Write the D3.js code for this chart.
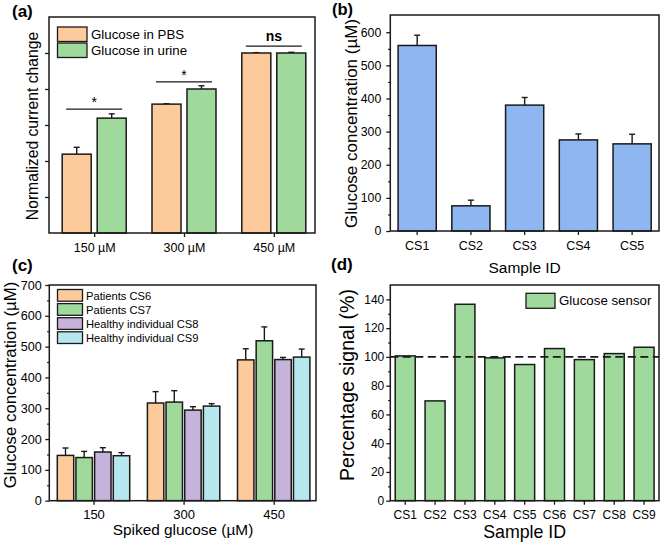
<!DOCTYPE html>
<html>
<head>
<meta charset="utf-8">
<script src="https://cdn.jsdelivr.net/npm/d3@7/dist/d3.min.js"></script>
<style>
  html, body { margin: 0; padding: 0; background: #fff; }
  svg { display: block; }
  text { font-family: "Liberation Sans", Arial, sans-serif; fill: #000; }
</style>
</head>
<body>
<svg id="chart" width="662" height="550"></svg>
<script>
// ---------- Panel (a) data ----------
const aGroups = ["150 µM", "300 µM", "450 µM"];
const aSeries = ["Glucose in PBS", "Glucose in urine"];
const aPBS = [2.19, 3.58, 5.0];
const aPBSErr = [0.19, 0.01, 0.01];
const aUrine = [3.19, 4.0, 5.0];
const aUrineErr = [0.12, 0.09, 0.02];
const aSigLabels = ["*", "*", "ns"];
const aSigLevel = [3.44, 4.2, 5.19];

// ---------- Panel (b) data ----------
const bSamples = ["CS1", "CS2", "CS3", "CS4", "CS5"];
const bValues = [560, 76, 380, 275, 263];
const bErr = [31, 17, 23, 18, 29];
const bTicks = [0, 100, 200, 300, 400, 500, 600];

// ---------- Panel (c) data ----------
const cGroups = ["150", "300", "450"];
const cSeries = ["Patients CS6", "Patients CS7", "Healthy individual CS8", "Healthy individual CS9"];
const cCS6 = [147, 317, 457];
const cCS6Err = [24, 37, 36];
const cCS7 = [140, 320, 519];
const cCS7Err = [20, 37, 45];
const cCS8 = [158, 294, 458];
const cCS8Err = [14, 11, 7];
const cCS9 = [146, 307, 466];
const cCS9Err = [10, 8, 26];
const cTicks = [0, 100, 200, 300, 400, 500, 600, 700];

// ---------- Panel (d) data ----------
const dSamples = ["CS1", "CS2", "CS3", "CS4", "CS5", "CS6", "CS7", "CS8", "CS9"];
const dValues = [100.7, 69.4, 136.6, 99.3, 94.7, 105.8, 98.1, 102.3, 106.7];
const dReference = 100;
const dTicks = [0, 20, 40, 60, 80, 100, 120, 140];

// ---------- styles ----------
const colors = {
  orange: "#FDCA9C",
  green: "#9FD99C",
  purple: "#C5B3DB",
  cyan: "#B6E6EE",
  blue: "#8EB6F0"
};
const stroke = "#1a1a1a";

const svg = d3.select("#chart");

function frame(g, x0, x1, y0, y1) {
  g.append("rect").attr("x", x0).attr("y", y1).attr("width", x1 - x0).attr("height", y0 - y1)
    .attr("fill", "none").attr("stroke", stroke).attr("stroke-width", 1.5);
}

function yAxis(g, y, x0, ticks, minorTicks, fontSize, pad, showLabels) {
  const ax = d3.axisLeft(y).tickValues(ticks).tickSize(4).tickSizeOuter(0).tickPadding(pad);
  if (!showLabels) ax.tickFormat("");
  const a = g.append("g").attr("transform", `translate(${x0},0)`).call(ax);
  a.select(".domain").remove();
  a.selectAll("line").attr("stroke", stroke).attr("stroke-width", 1.3);
  a.selectAll("text").attr("font-size", fontSize).attr("fill", "#000")
    .style("font-family", '"Liberation Sans", Arial, sans-serif');
  if (minorTicks) {
    const m = g.append("g").attr("transform", `translate(${x0},0)`)
      .call(d3.axisLeft(y).tickValues(minorTicks).tickSize(2.2).tickFormat(""));
    m.select(".domain").remove();
    m.selectAll("line").attr("stroke", stroke).attr("stroke-width", 1.2);
  }
}

function xAxis(g, scale, y0, fontSize, labelOffset) {
  const ax = d3.axisBottom(scale).tickSize(4).tickSizeOuter(0);
  const a = g.append("g").attr("transform", `translate(0,${y0})`).call(ax);
  a.select(".domain").remove();
  a.selectAll("line").attr("stroke", stroke).attr("stroke-width", 1.3);
  a.selectAll("text").attr("font-size", fontSize).attr("fill", "#000")
    .attr("y", labelOffset).attr("dy", 0)
    .style("font-family", '"Liberation Sans", Arial, sans-serif');
}

function yTitle(g, text, cx, cy, size) {
  g.append("text").attr("transform", `translate(${cx},${cy}) rotate(-90)`)
    .attr("text-anchor", "middle").attr("dy", "0.35em").attr("font-size", size).text(text);
}

function panelLabel(text, x, y, size) {
  svg.append("text").attr("x", x).attr("y", y).attr("font-size", size || 17)
    .attr("font-weight", "bold").text(text);
}

function errBar(g, cx, yTop, yErr, half) {
  g.append("line").attr("x1", cx).attr("x2", cx).attr("y1", yTop).attr("y2", yErr)
    .attr("stroke", stroke).attr("stroke-width", 1.4);
  g.append("line").attr("x1", cx - half).attr("x2", cx + half).attr("y1", yErr).attr("y2", yErr)
    .attr("stroke", stroke).attr("stroke-width", 1.4);
}

// ================= Panel (a) =================
{
  const g = svg.append("g");
  const L = 49, R = 315, T = 17, B = 233;
  const y = d3.scaleLinear().domain([0, 6]).range([B, T]);
  const xg = d3.scalePoint().domain(aGroups).range([94.2, 273.8]);
  const xs = d3.scaleBand().domain(aSeries).range([-32, 32]).paddingInner(0.171);
  const vals = [aPBS, aUrine], errs = [aPBSErr, aUrineErr];
  const fills = [colors.orange, colors.green];
  aSeries.forEach((s, si) => {
    aGroups.forEach((grp, gi) => {
      const x0 = xg(grp) + xs(s);
      const v = vals[si][gi];
      errBar(g, x0 + xs.bandwidth() / 2, y(v), y(v + errs[si][gi]), 3);
      g.append("rect").attr("x", x0).attr("y", y(v)).attr("width", xs.bandwidth())
        .attr("height", y(0) - y(v)).attr("fill", fills[si]).attr("stroke", stroke).attr("stroke-width", 1.5);
    });
  });
  // significance
  aGroups.forEach((grp, gi) => {
    const c = xg(grp);
    const ly = y(aSigLevel[gi]);
    g.append("line").attr("x1", c - 28).attr("x2", c + 28).attr("y1", ly).attr("y2", ly)
      .attr("stroke", stroke).attr("stroke-width", 1.2);
    const isNs = aSigLabels[gi] === "ns";
    g.append("text").attr("x", c).attr("y", isNs ? ly - 5 : ly - 2).attr("text-anchor", "middle")
      .attr("font-size", 14).attr("font-weight", isNs ? "bold" : "normal")
      .text(aSigLabels[gi]);
  });
  yAxis(g, y, L, [1, 2, 3, 4, 5], null, 12, 3, false);
  xAxis(g, xg, B, 12.5, 19);
  frame(g, L, R, B, T);
  yTitle(g, "Normalized current change", 32, 126, 15.7);
  // legend
  aSeries.forEach((s, i) => {
    const yy = 27 + i * 16;
    g.append("rect").attr("x", 57.5).attr("y", yy).attr("width", 29.5).attr("height", 14.5)
      .attr("fill", fills[i]).attr("stroke", stroke).attr("stroke-width", 1.3);
    g.append("text").attr("x", 91).attr("y", yy + 12).attr("font-size", 13.3).text(s);
  });
  panelLabel("(a)", 12, 17);
}

// ================= Panel (b) =================
{
  const g = svg.append("g");
  const L = 390.3, R = 659, T = 15, B = 231;
  const y = d3.scaleLinear().domain([0, 652]).range([B, T]);
  const x = d3.scaleBand().domain(bSamples).range([L, R]).paddingInner(0.29).paddingOuter(0.145);
  bSamples.forEach((s, i) => {
    const cx = x(s) + x.bandwidth() / 2;
    errBar(g, cx, y(bValues[i]), y(bValues[i] + bErr[i]), 3);
    g.append("rect").attr("x", x(s)).attr("y", y(bValues[i])).attr("width", x.bandwidth())
      .attr("height", y(0) - y(bValues[i])).attr("fill", colors.blue).attr("stroke", stroke).attr("stroke-width", 1.5);
  });
  yAxis(g, y, L, bTicks, d3.range(50, 650, 100), 12.3, 5, true);
  xAxis(g, x, B, 12.5, 19);
  frame(g, L, R, B, T);
  yTitle(g, "Glucose concentration (µM)", 351, 123.5, 17);
  g.append("text").attr("x", (L + R) / 2).attr("y", 273).attr("text-anchor", "middle")
    .attr("font-size", 15.5).text("Sample ID");
  panelLabel("(b)", 332, 15, 16.5);
}

// ================= Panel (c) =================
{
  const g = svg.append("g");
  const L = 49.3, R = 316, T = 285, B = 500.7;
  const y = d3.scaleLinear().domain([0, 700]).range([B, T]);
  const xg = d3.scalePoint().domain(cGroups).range([93.5, 273.7]);
  const xs = d3.scaleBand().domain(cSeries).range([-36.2, 36.2]).paddingInner(0.12);
  const vals = [cCS6, cCS7, cCS8, cCS9], errs = [cCS6Err, cCS7Err, cCS8Err, cCS9Err];
  const fills = [colors.orange, colors.green, colors.purple, colors.cyan];
  cSeries.forEach((s, si) => {
    cGroups.forEach((grp, gi) => {
      const x0 = xg(grp) + xs(s);
      const v = vals[si][gi];
      errBar(g, x0 + xs.bandwidth() / 2, y(v), y(v + errs[si][gi]), 3);
      g.append("rect").attr("x", x0).attr("y", y(v)).attr("width", xs.bandwidth())
        .attr("height", y(0) - y(v)).attr("fill", fills[si]).attr("stroke", stroke).attr("stroke-width", 1.5);
    });
  });
  yAxis(g, y, L, cTicks, d3.range(50, 700, 100), 12.6, 3.6, true);
  xAxis(g, xg, B, 13, 18.6);
  frame(g, L, R, B, T);
  yTitle(g, "Glucose concentration (µM)", 10, 385, 16.8);
  g.append("text").attr("x", 183).attr("y", 535).attr("text-anchor", "middle")
    .attr("font-size", 15.4).text("Spiked glucose (µM)");
  cSeries.forEach((s, i) => {
    const yy = 289.5 + i * 14.1;
    g.append("rect").attr("x", 57.5).attr("y", yy).attr("width", 25).attr("height", 11.7)
      .attr("fill", fills[i]).attr("stroke", stroke).attr("stroke-width", 1.3);
    g.append("text").attr("x", 86).attr("y", yy + 10).attr("font-size", 11.2).text(s);
  });
  panelLabel("(c)", 12, 271);
}

// ================= Panel (d) =================
{
  const g = svg.append("g");
  const L = 390.3, R = 659, T = 285, B = 500.7;
  const y = d3.scaleLinear().domain([0, 150]).range([B, T]);
  const x = d3.scaleBand().domain(dSamples).range([L, R]).paddingInner(0.33).paddingOuter(0.165);
  dSamples.forEach((s, i) => {
    g.append("rect").attr("x", x(s)).attr("y", y(dValues[i])).attr("width", x.bandwidth())
      .attr("height", y(0) - y(dValues[i])).attr("fill", colors.green).attr("stroke", stroke).attr("stroke-width", 1.5);
  });
  g.append("line").attr("x1", L).attr("x2", R).attr("y1", y(dReference)).attr("y2", y(dReference))
    .attr("stroke", stroke).attr("stroke-width", 1.6).attr("stroke-dasharray", "8,4.5");
  yAxis(g, y, L, dTicks, d3.range(10, 150, 20), 12, 2, true);
  xAxis(g, x, B, 12, 18);
  frame(g, L, R, B, T);
  yTitle(g, "Percentage signal (%)", 347, 385, 19.5);
  g.append("text").attr("x", (L + R) / 2).attr("y", 538).attr("text-anchor", "middle")
    .attr("font-size", 17.8).text("Sample ID");
  g.append("rect").attr("x", 526).attr("y", 293.3).attr("width", 29).attr("height", 15)
    .attr("fill", colors.green).attr("stroke", stroke).attr("stroke-width", 1.3);
  g.append("text").attr("x", 559).attr("y", 305).attr("font-size", 13.3).text("Glucose sensor");
  panelLabel("(d)", 331, 270);
}
</script>
</body>
</html>
